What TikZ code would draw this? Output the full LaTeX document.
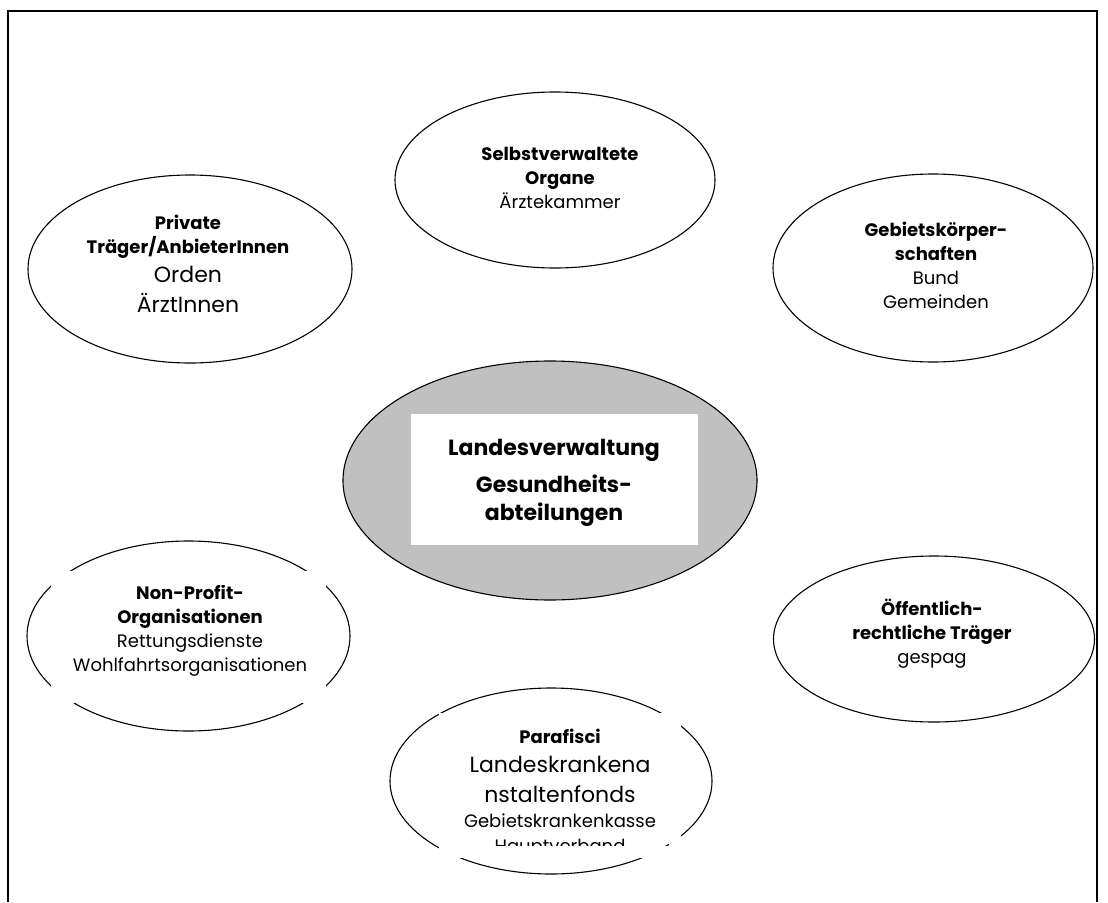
\documentclass[tikz,border=0pt]{standalone}
\usepackage{fontspec}
\setmainfont{Poppins}
\usetikzlibrary{shapes.geometric}
\definecolor{centergray}{HTML}{C0C0C0}
\newcommand\bodybig{\fontsize{22}{28}\selectfont}
\newcommand\stack[1]{\begin{tabular}[t]{@{}c@{}}#1\end{tabular}}
\begin{document}
\begin{tikzpicture}[x=1pt,y=-1pt,
  oval/.style={ellipse, draw, line width=1.1pt, inner sep=0pt},
  lbl/.style={anchor=base, inner sep=0pt, font=\fontsize{18}{24}\selectfont},
  gapframe/.style={draw=white, line width=14pt}]
\useasboundingbox (0,0) rectangle (1108,902);
% outer frame
\coordinate (fbl) at (8,902);
\coordinate (ftl) at (8,11);
\coordinate (ftr) at (1097,11);
\coordinate (fbr) at (1097,902);
\draw[line width=1.3pt] (fbl) -- (ftl) -- (ftr) -- (fbr);

% ellipses
\node[oval, minimum width=320pt, minimum height=176pt] (selbst) at (555,180) {};
\node[oval, minimum width=324pt, minimum height=188pt] (privat) at (190,269) {};
\node[oval, minimum width=320pt, minimum height=188pt] (gebiet) at (933,268) {};
\node[oval, fill=centergray, minimum width=414pt, minimum height=239pt] (land) at (550,480.5) {};
\node[oval, minimum width=323pt, minimum height=190pt] (npo) at (188.5,636) {};
\node[oval, minimum width=321pt, minimum height=166pt] (oeff) at (934,639) {};
\node[oval, minimum width=322pt, minimum height=186pt] (para) at (551,781) {};

% central white box
\node[fill=white, minimum width=287pt, minimum height=131pt, inner sep=0pt] (landbox) at (554.5,479.5) {};

% texts
\node[lbl] (tselbst) at (560,160) {\stack{\textbf{Selbstverwaltete}\\\textbf{Organe}\\Ärztekammer}};
\node[lbl] (tprivat) at (188,229) {\stack{\textbf{Private}\\\textbf{Träger/AnbieterInnen}\\[5pt]{\bodybig Orden}\\[4pt]{\bodybig ÄrztInnen}}};
\node[lbl] (tgebiet) at (936,236) {\stack{\textbf{Gebietskörper-}\\\textbf{schaften}\\Bund\\Gemeinden}};
\node[lbl, font=\fontsize{22}{28}\selectfont\bfseries] (tland) at (554,455) {\stack{Landesverwaltung\\[9pt]Gesundheits-\\abteilungen}};
\node[lbl] (tnpo) at (190,599) {\stack{\textbf{Non-Profit-}\\\textbf{Organisationen}\\Rettungsdienste\\Wohlfahrtsorganisationen}};
\node[lbl] (toeff) at (932,615) {\stack{\textbf{Öffentlich-}\\\textbf{rechtliche Träger}\\gespag}};
\node[lbl] (tpara) at (560,743) {\stack{\textbf{Parafisci}\\[5pt]{\bodybig Landeskrankena}\\[6pt]{\bodybig nstaltenfonds}\\[1pt]Gebietskrankenkasse\\[1pt]Hauptverband}};

% white borders of the text boxes that cut the outlines
\draw[gapframe] (58,578) rectangle (319,696);
\draw[gapframe, line width=12pt] (445,719) rectangle (675,852);
\end{tikzpicture}
\end{document}
